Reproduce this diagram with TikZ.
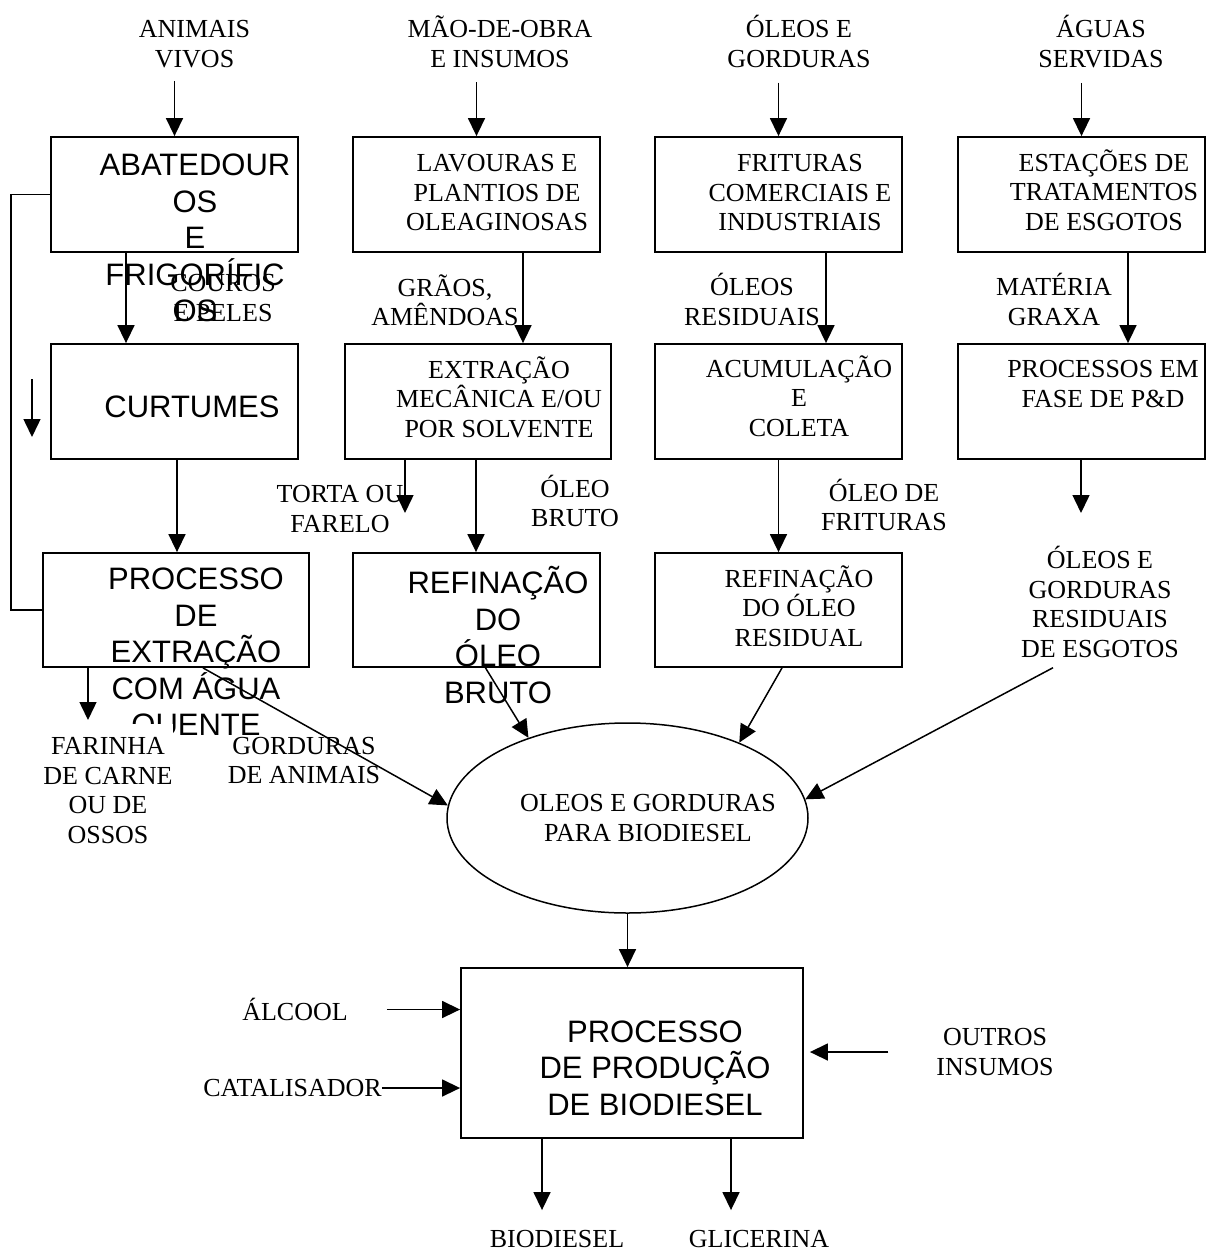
\documentclass[tikz,border=0pt]{standalone}
\usepackage{fontspec}
\setmainfont{Liberation Serif}
\newfontfamily\arialf{Liberation Sans}
\usetikzlibrary{arrows.meta,calc,shapes.geometric}
\begin{document}
\begin{tikzpicture}[x=1pt,y=-1pt,
  box/.style={draw,line width=1.8pt,minimum width=247pt,minimum height=115pt,inner sep=0pt},
  wbox/.style={box,minimum width=266pt},
  lbl/.style={align=center,inner sep=0pt,font=\fontsize{26}{29.5}\selectfont},
  stxt/.style={align=center,inner sep=0pt,font=\arialf\fontsize{31}{36.5}\selectfont},
  arr/.style={line width=1.5pt,-{Triangle[length=18pt,width=17pt]}},
  ln/.style={line width=1.5pt}]

\useasboundingbox (0,0) rectangle (1206,1250);

% boxes
\node[box] (b1) at (174.5,194.5) {};
\node[box] (b2) at (476.5,194.5) {};
\node[box] (b3) at (778.5,194.5) {};
\node[box] (b4) at (1081.5,194.5) {};
\node[box] (c1) at (174.5,401.5) {};
\node[wbox] (c2) at (478,401.5) {};
\node[box] (c3) at (778.5,401.5) {};
\node[box] (c4) at (1081.5,401.5) {};
\node[wbox,minimum height=114pt] (d1) at (176,610) {};
\node[box,minimum height=114pt] (d2) at (476.5,610) {};
\node[box,minimum height=114pt] (d3) at (778.5,610) {};
\node[ellipse,draw,line width=1.5pt,minimum width=361pt,minimum height=190pt,inner sep=0pt] (e) at (627.5,818) {};
\node[box,minimum width=342pt,minimum height=170pt] (p) at (632,1053) {};

% top inputs
\node[lbl] (animais) at (194.5,44) {ANIMAIS\\VIVOS};
\node[lbl] (mao) at (500,41.5) {MÃO-DE-OBRA\\E INSUMOS};
\node[lbl] (oleostop) at (799,41.5) {ÓLEOS E\\GORDURAS};
\node[lbl] (aguas) at (1101,41.5) {ÁGUAS\\SERVIDAS};

% box texts
\node[stxt] (t1) at (195,238) {ABATEDOUR\\OS\\E\\FRIGORÍFIC\\OS};
\node[lbl] (t2) at (497,193) {LAVOURAS E\\PLANTIOS DE\\OLEAGINOSAS};
\node[lbl] (t3) at (800,193) {FRITURAS\\COMERCIAIS E\\INDUSTRIAIS};
\node[lbl] (t4) at (1104,190) {ESTAÇÕES DE\\TRATAMENTOS\\DE ESGOTOS};
\node[stxt] (tc1) at (192,407) {CURTUMES};
\node[lbl] (tc2) at (499,397) {EXTRAÇÃO\\MECÂNICA E/OU\\POR SOLVENTE};
\node[lbl] (tc3) at (799,396) {ACUMULAÇÃO\\E\\COLETA};
\node[lbl] (tc4) at (1103,384) {PROCESSOS EM\\FASE DE P\&D};
\node[stxt] (td1) at (196,655) {PROCESSO\\DE\\EXTRAÇÃO\\COM ÁGUA\\QUENTE};
\node[stxt] (td2) at (498,635) {REFINAÇÃO\\DO\\ÓLEO\\BRUTO};
\node[lbl] (td3) at (799,606) {REFINAÇÃO\\DO ÓLEO\\RESIDUAL};
\node[lbl] (te) at (648,818) {OLEOS E GORDURAS\\PARA BIODIESEL};
\node[stxt] (tp) at (655,1068) {PROCESSO\\DE PRODUÇÃO\\DE BIODIESEL};

% flow labels
\node[lbl] (couros) at (223,298) {COUROS\\E PELES};
\node[lbl] (graos) at (445,300) {GRÃOS,\\AMÊNDOAS};
\node[lbl] (oleosres) at (752,299.5) {ÓLEOS\\RESIDUAIS};
\node[lbl] (materia) at (1054,299.5) {MATÉRIA\\GRAXA};
\node[lbl] (torta) at (340,509) {TORTA OU\\FARELO};
\node[lbl] (oleobruto) at (575,501) {ÓLEO\\BRUTO};
\node[lbl] (oleofrit) at (884,505) {ÓLEO DE\\FRITURAS};
\node[lbl] (esgotos) at (1100,602) {ÓLEOS E\\GORDURAS\\RESIDUAIS\\DE ESGOTOS};
\node[lbl,fill=white,inner ysep=14pt] (farinha) at (108,790.5) {FARINHA\\DE CARNE\\OU DE\\OSSOS};
\node[lbl] (gorduras) at (304,760.5) {GORDURAS\\DE ANIMAIS};
\node[lbl] (alcool) at (295,1009.5) {ÁLCOOL};
\node[lbl] (catal) at (292.5,1088) {CATALISADOR};
\node[lbl] (outros) at (995,1052) {OUTROS\\INSUMOS};
\node[lbl] (biodiesel) at (557,1239) {BIODIESEL};
\node[lbl] (glicerina) at (759,1239) {GLICERINA};

% free ends
\coordinate (sa1) at (32,379);
\coordinate (sa2) at (32,437);
\coordinate (tortaend) at (405,513);
\coordinate (esgend) at (1081,513);
\coordinate (farend) at (88,720);

% connectors
\draw[arr] ($(animais.south -| b1.north)+(0,13)$) -- (b1.north);
\draw[arr] ($(mao.south -| b2.north)+(0,15)$) -- (b2.north);
\draw[arr] ($(oleostop.south -| b3.north)+(0,15)$) -- (b3.north);
\draw[arr] ($(aguas.south -| b4.north)+(0,15)$) -- (b4.north);

\draw[arr] ($(b1.south)+(-48.5,0)$) -- ($(c1.north)+(-48.5,0)$);
\draw[arr] ($(b2.south)+(46.5,0)$) -- ($(c2.north)+(45,0)$);
\draw[arr] ($(b3.south)+(47.5,0)$) -- ($(c3.north)+(47.5,0)$);
\draw[arr] ($(b4.south)+(46.5,0)$) -- ($(c4.north)+(46.5,0)$);

\draw[arr] ($(c1.south)+(2.5,0)$) -- ($(d1.north)+(1,0)$);
\draw[arr] (c2.south -| tortaend) -- (tortaend);
\draw[arr] ($(c2.south)+(-2,0)$) -- ($(d2.north)+(-0.5,0)$);
\draw[arr] (c3.south) -- (d3.north);
\draw[arr] (c4.south -| esgend) -- (esgend);

\draw[ln] (b1.west) -- ++(-39,0) |- (d1.west);
\draw[arr] (sa1) -- (sa2);

\draw[arr] (d1.south -| farend) -- (farend);
\draw[arr] ($(d1.south)+(27,0)$) -- (e.176.5);
\draw[arr] ($(d2.south)+(9,0)$) -- (e.141.3);
\draw[arr] ($(d3.south)+(3.5,0)$) -- (e.34.7);
\draw[arr] ($(esgotos.south)+(-47,10)$) -- (e.6.6);

\draw[arr] (e.south) -- (e.south |- p.north);
\draw[arr] ($(alcool.east)+(39,0)$) -- (alcool.east -| p.west);
\draw[arr] (catal.east) -- (catal.east -| p.west);
\draw[arr] ($(outros.west)+(-48,0)$) -- ($(outros.west -| p.east)+(6,0)$);
\draw[arr] ($(p.south)+(-90,0)$) -- ($(biodiesel.north)+(-15,-20)$);
\draw[arr] ($(p.south)+(99,0)$) -- ($(glicerina.north)+(-28,-20)$);
\end{tikzpicture}
\end{document}
